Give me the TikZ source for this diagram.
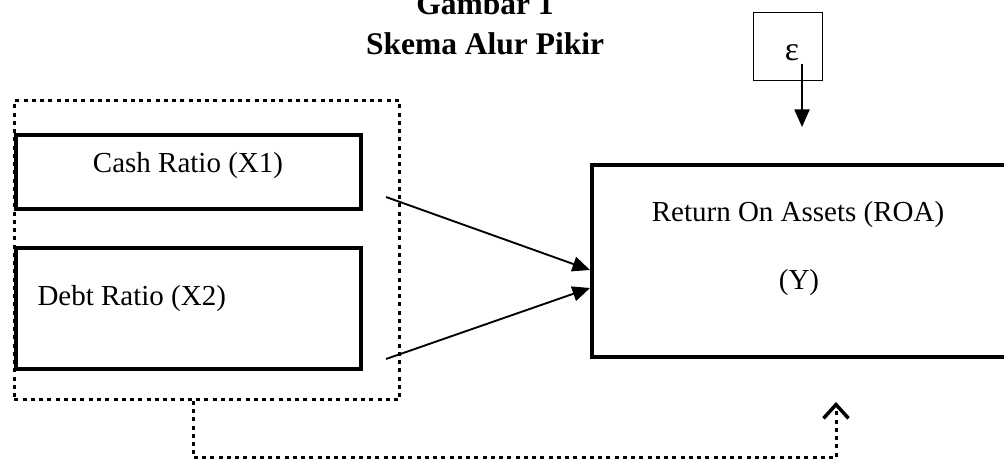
\documentclass[tikz,border=0pt]{standalone}
\usepackage{fontspec}
\setmainfont{Liberation Serif}
\usetikzlibrary{arrows.meta}

\tikzset{
  varbox/.style={shape=rectangle,draw=black,line width=1.7pt,inner sep=0pt},
  epsbox/.style={shape=rectangle,draw=black,line width=0.55pt,inner sep=0pt,
    minimum width=27.5pt,minimum height=27.1pt},
  groupbox/.style={shape=rectangle,draw=black,line width=1.2pt,inner sep=0pt,
    dash pattern=on 1.6pt off 1.7pt},
  txt/.style={inner sep=0pt,font=\fontsize{11.6}{14}\selectfont},
  ttl/.style={inner sep=0pt,font=\fontsize{12.6}{15}\selectfont\bfseries},
  link/.style={line width=0.75pt,-{Triangle[length=7pt,width=6pt]}},
  feedback/.style={line width=1.2pt,dash pattern=on 1.6pt off 1.7pt,
    -{Straight Barb[length=5.5pt,width=10pt,line width=1.4pt]}}
}

\begin{document}
\begin{tikzpicture}[x=0.4pt,y=-0.4pt]
		\useasboundingbox (0,0) rectangle (1004,470);
		% judul
		\node [ttl,anchor=base] (t1) at (485,15) {Gambar 1};
		\node [ttl,anchor=base] (t2) at (485,55) {Skema Alur Pikir};
		% variabel bebas
		\node [groupbox,minimum width=154pt,minimum height=119.6pt] (grp) at (207,250.5) {};
		\node [varbox,minimum width=138pt,minimum height=29.6pt] (X1) at (188.5,172) {};
		\node [varbox,minimum width=138pt,minimum height=48.4pt] (X2) at (188.5,308.5) {};
		\node [txt,anchor=base] (X1t) at (188,173) {Cash Ratio (X1)};
		\node [txt,anchor=base west] (X2t) at (37,306) {Debt Ratio (X2)};
		% variabel terikat
		\node [varbox,minimum width=169.2pt,minimum height=76.8pt] (Y) at (803.5,261) {};
		\node [txt,anchor=base] (Yt1) at (798,222) {Return On Assets (ROA)};
		\node [txt,anchor=base] (Yt2) at (799,290) {(Y)};
		% error
		\node [epsbox] (E) at (788,46.5) {};
		\node [inner sep=0pt,font=\fontsize{13.5}{15}\selectfont,anchor=base] (Et) at (792,61) {ε};
		% panah
		\coordinate (c1) at (386,197);
		\coordinate (c2) at (386,359);
		\coordinate (r1) at (590,270);
		\coordinate (r2) at (590,288);
		\draw [link] (c1) -- (r1);
		\draw [link] (c2) -- (r2);
		\coordinate (e1) at (802,64);
		\coordinate (e2) at (802,127);
		\draw [link] (e1) -- (e2);
		\coordinate (f1) at (193,401);
		\coordinate (f2) at (836,402);
		\draw [feedback] (f1) -- ++(0,57) -| (f2);
	\end{tikzpicture}
\end{document}
